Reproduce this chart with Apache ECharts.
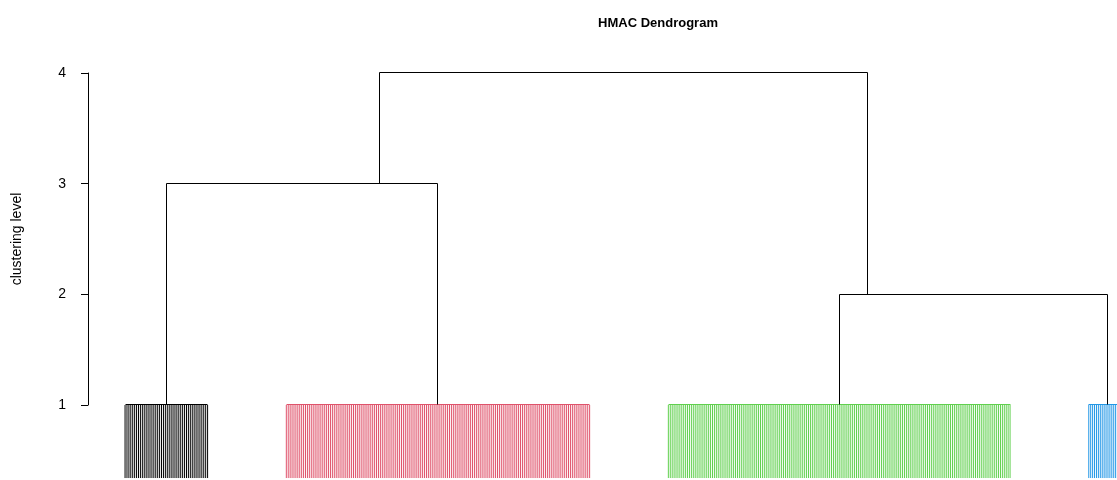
<!DOCTYPE html>
<html>
<head>
<meta charset="utf-8">
<script src="https://cdn.jsdelivr.net/npm/echarts@6/dist/echarts.min.js"></script>
<style>
  html, body { margin: 0; padding: 0; background: #fff; }
  #chart { width: 1117px; height: 480px; }
</style>
</head>
<body>
<div id="chart"></div>
<script>
// leaf clusters (leaf position units, one unit per leaf)
const clusterFirstLeaf = [0, 84, 283, 502];
const clusterLeafCount = [44, 159, 179, 20];
const clusterHeight = [1, 1, 1, 1];
const clusterNodeX = [21.5, 163, 372, 511.5];
const leafBottom = 0.34;

// merges: children (c = cluster, m = merge), height, node x
const mergeLeft = ["c0", "c2", "m0"];
const mergeRight = ["c1", "c3", "m1"];
const mergeHeight = [3, 2, 4];
const mergeNodeX = [132.8, 386.5, 260];

const yTicks = [1, 2, 3, 4];
const clusterColors = ["#000000", "#DF536B", "#61D04F", "#2297E6"];

// build the line segments: [x1, y1, x2, y2, colorIndex, isLeaf]
let segs = [];
clusterFirstLeaf.forEach((first, c) => {
  const n = clusterLeafCount[c];
  for (let i = 0; i < n; i++) {
    segs.push([first + i, clusterHeight[c], first + i, leafBottom, c, 1]);
  }
  // bar joining the leaves
  segs.push([first, clusterHeight[c], first + n - 1, clusterHeight[c], c, 0]);
});

function nodeOf(key) {
  const idx = parseInt(key.slice(1));
  if (key[0] === "c") return { x: clusterNodeX[idx], h: clusterHeight[idx] };
  return { x: mergeNodeX[idx], h: mergeHeight[idx] };
}

mergeHeight.forEach((h, m) => {
  const l = nodeOf(mergeLeft[m]);
  const r = nodeOf(mergeRight[m]);
  segs.push([l.x, h, r.x, h, -1, 0]);
  segs.push([l.x, l.h, l.x, h, -1, 0]);
  segs.push([r.x, r.h, r.x, h, -1, 0]);
});

// snap to pixel centres so the links stay crisp
function snap(v) {
  return Math.round(v - 0.5) + 0.5;
}

var chart = echarts.init(document.getElementById("chart"));
chart.setOption({
  animation: false,
  backgroundColor: "#fff",
  title: {
    text: "HMAC Dendrogram",
    left: 653,
    top: 12,
    textAlign: "center",
    textStyle: {
      fontFamily: "Liberation Sans",
      fontSize: 13,
      fontWeight: "bold",
      color: "#000",
    },
  },
  grid: { left: 88, right: 0, top: 73, bottom: 75 },
  xAxis: {
    type: "value",
    min: -19.3,
    max: 516.7,
    show: false,
  },
  yAxis: {
    type: "value",
    min: yTicks[0],
    max: yTicks[yTicks.length - 1],
    interval: 1,
    name: "clustering level",
    nameLocation: "middle",
    nameGap: 64,
    nameTextStyle: { fontFamily: "Liberation Sans", fontSize: 14, color: "#000" },
    axisLine: { show: true, onZero: false, lineStyle: { color: "#000", width: 1 } },
    axisTick: { show: true, length: 7, lineStyle: { color: "#000" } },
    axisLabel: {
      margin: 22,
      fontFamily: "Liberation Sans",
      fontSize: 14,
      color: "#000",
    },
    splitLine: { show: false },
  },
  series: [
    {
      type: "custom",
      clip: false,
      progressive: 0,
      data: segs,
      encode: { x: [0, 2], y: [1, 3] },
      renderItem: function (params, api) {
        const p1 = api.coord([api.value(0), api.value(1)]);
        const p2 = api.coord([api.value(2), api.value(3)]);
        const ci = api.value(4);
        const leaf = api.value(5) === 1;
        const shape = leaf
          ? { x1: p1[0], y1: p1[1], x2: p2[0], y2: p2[1] }
          : { x1: snap(p1[0]), y1: snap(p1[1]), x2: snap(p2[0]), y2: snap(p2[1]) };
        return {
          type: "line",
          shape: shape,
          style: {
            stroke: ci < 0 ? "#000" : clusterColors[ci],
            lineWidth: 1,
          },
        };
      },
    },
  ],
});
</script>
</body>
</html>
